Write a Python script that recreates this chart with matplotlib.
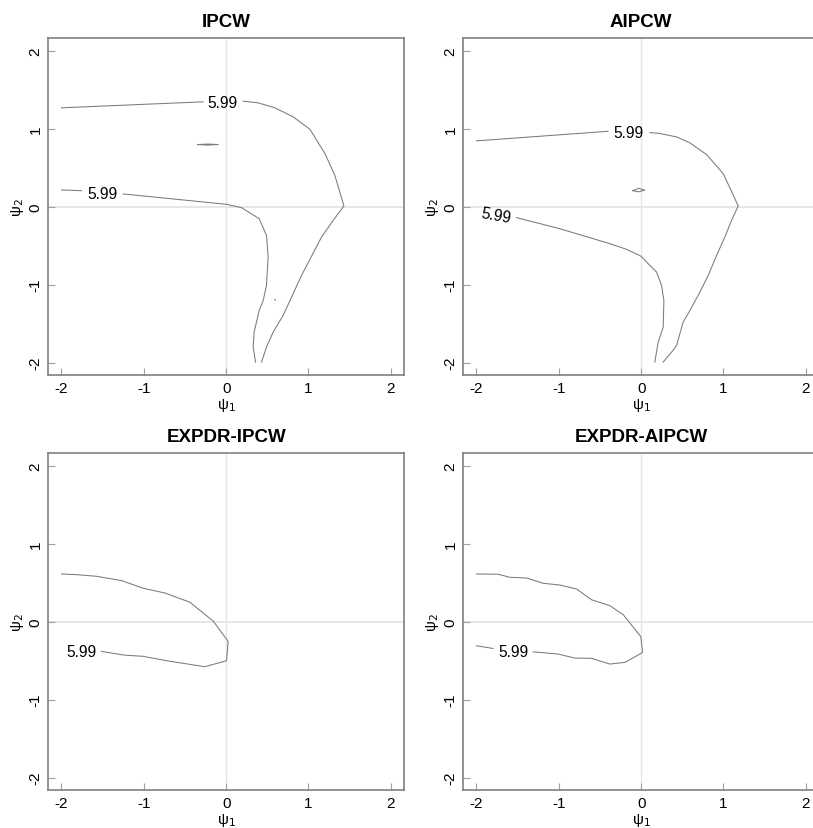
import matplotlib
matplotlib.use("Agg")
import matplotlib.pyplot as plt

plt.rcParams['font.family'] = ['Liberation Sans', 'DejaVu Sans']

LEVEL_LABEL = "5.99"
titles = ["IPCW", "AIPCW", "EXPDR-IPCW", "EXPDR-AIPCW"]
ticks = [-2, -1, 0, 1, 2]
tick_labels = ["-2", "-1", "0", "1", "2"]

# IPCW contour pieces (psi1, psi2)
ipcw_upper_a_x = [-2.0, -0.28]
ipcw_upper_a_y = [1.268, 1.345]
ipcw_upper_b_x = [0.207, 0.389, 0.592, 0.814, 1.017, 1.20, 1.32, 1.43, 1.30, 1.159, 0.916, 0.692, 0.571, 0.49, 0.43]
ipcw_upper_b_y = [1.353, 1.332, 1.268, 1.152, 0.993, 0.681, 0.402, 0.009, -0.176, -0.389, -0.882, -1.396, -1.61, -1.80, -1.995]
ipcw_lower_a_x = [-2.0, -1.757]
ipcw_lower_a_y = [0.214, 0.205]
ipcw_lower_b_x = [-1.25, 0.005, 0.187, 0.401, 0.49, 0.51, 0.49, 0.45, 0.401, 0.34, 0.328, 0.357]
ipcw_lower_b_y = [0.163, 0.03, -0.013, -0.154, -0.369, -0.646, -1.011, -1.204, -1.332, -1.61, -1.80, -1.995]
ipcw_island_x = [-0.348, -0.22, -0.097, -0.22, -0.348]
ipcw_island_y = [0.797, 0.803, 0.797, 0.790, 0.797]
ipcw_speck_x = [0.59, 0.60]
ipcw_speck_y = [-1.19, -1.20]
ipcw_labels = [(-0.044, 1.33, 0), (-1.505, 0.17, 0)]

# AIPCW contour pieces
aipcw_upper_a_x = [-2.0, -0.401]
aipcw_upper_a_y = [0.844, 0.967]
aipcw_upper_b_x = [0.106, 0.207, 0.43, 0.592, 0.795, 0.996, 1.098, 1.179, 1.098, 1.017, 0.916, 0.814, 0.713, 0.592, 0.51, 0.43, 0.39, 0.267]
aipcw_upper_b_y = [0.95, 0.942, 0.895, 0.818, 0.668, 0.424, 0.196, 0.009, -0.176, -0.389, -0.626, -0.883, -1.096, -1.332, -1.481, -1.78, -1.84, -1.995]
aipcw_lower_x = [-1.514, -0.988, -0.38, -0.177, -0.004, 0.085, 0.187, 0.248, 0.276, 0.268, 0.207, 0.166]
aipcw_lower_y = [-0.141, -0.283, -0.475, -0.548, -0.634, -0.732, -0.839, -1.011, -1.204, -1.545, -1.738, -1.995]
aipcw_island_x = [-0.10, -0.03, 0.045, -0.03, -0.10]
aipcw_island_y = [0.205, 0.235, 0.212, 0.19, 0.205]
aipcw_labels = [(-0.158, 0.947, 0), (-1.765, -0.115, -10)]

# EXPDR-IPCW contour
expdr_ipcw_x = [-2.0, -1.818, -1.575, -1.271, -1.008, -0.745, -0.441, -0.158, 0.024, 0.005, -0.259, -0.724, -1.008, -1.25, -1.514]
expdr_ipcw_y = [0.612, 0.603, 0.582, 0.527, 0.429, 0.368, 0.249, 0.008, -0.252, -0.501, -0.578, -0.501, -0.445, -0.428, -0.381]
expdr_ipcw_labels = [(-1.757, -0.377, 0)]

# EXPDR-AIPCW contour
expdr_aipcw_a_x = [-2.0, -1.737, -1.595, -1.392, -1.19, -0.988, -0.785, -0.603, -0.38, -0.218, -0.117, -0.004, 0.017, -0.036, -0.194, -0.38, -0.603, -0.806, -1.008, -1.311]
expdr_aipcw_a_y = [0.612, 0.608, 0.569, 0.56, 0.492, 0.47, 0.419, 0.281, 0.205, 0.09, -0.043, -0.193, -0.394, -0.428, -0.522, -0.544, -0.471, -0.467, -0.416, -0.387]
expdr_aipcw_b_x = [-1.798, -2.0]
expdr_aipcw_b_y = [-0.344, -0.31]
expdr_aipcw_labels = [(-1.555, -0.382, 0)]

panels = [
    ([(ipcw_upper_a_x, ipcw_upper_a_y), (ipcw_upper_b_x, ipcw_upper_b_y),
      (ipcw_lower_a_x, ipcw_lower_a_y), (ipcw_lower_b_x, ipcw_lower_b_y),
      (ipcw_island_x, ipcw_island_y), (ipcw_speck_x, ipcw_speck_y)], ipcw_labels),
    ([(aipcw_upper_a_x, aipcw_upper_a_y), (aipcw_upper_b_x, aipcw_upper_b_y),
      (aipcw_lower_x, aipcw_lower_y), (aipcw_island_x, aipcw_island_y)], aipcw_labels),
    ([(expdr_ipcw_x, expdr_ipcw_y)], expdr_ipcw_labels),
    ([(expdr_aipcw_a_x, expdr_aipcw_a_y), (expdr_aipcw_b_x, expdr_aipcw_b_y)], expdr_aipcw_labels),
]

W, H = 813, 829
fig = plt.figure(figsize=(W / 100, H / 100), dpi=100)

# axes boxes in pixels: left, top, right, bottom
boxes = [(48.3, 39.3, 404.0, 376.0), (463.3, 39.3, 819.0, 376.0),
         (48.3, 454.3, 404.0, 791.0), (463.3, 454.3, 819.0, 791.0)]

frame_col = "#808080"
line_col = "#7a7a7a"
ref_col = "#e6e6e6"

for (l, t, r, b), title, (curves, labels) in zip(boxes, titles, panels):
    ax = fig.add_axes([l / W, 1 - b / H, (r - l) / W, (b - t) / H])
    ax.set_xlim(-2.16, 2.16)
    ax.set_ylim(-2.16, 2.16)
    ax.axhline(0, color=ref_col, lw=1.4, zorder=1)
    ax.axvline(0, color=ref_col, lw=1.0, zorder=1)
    for xs, ys in curves:
        ax.plot(xs, ys, color=line_col, lw=0.75, zorder=2)
    for lx, ly, rot in labels:
        ax.text(lx, ly, LEVEL_LABEL, fontsize=11.2, ha="center", va="center",
                rotation=rot, color="black", zorder=3)
    ax.set_xticks(ticks)
    ax.set_xticklabels(tick_labels)
    ax.set_yticks(ticks)
    ax.set_yticklabels(tick_labels, rotation=90, va="center")
    ax.tick_params(direction="in", length=5, width=0.8, color="#a0a0a0",
                   labelsize=11, pad=4)
    for s in ax.spines.values():
        s.set_color(frame_col)
        s.set_linewidth(1.2)
    ax.set_xlabel("ψ$_1$", fontsize=11, labelpad=1)
    ax.set_ylabel("ψ$_2$", fontsize=11, labelpad=2)
    ax.set_title(title, fontsize=13.5, fontweight="bold", pad=9)

fig.savefig("out.png", dpi=100)
